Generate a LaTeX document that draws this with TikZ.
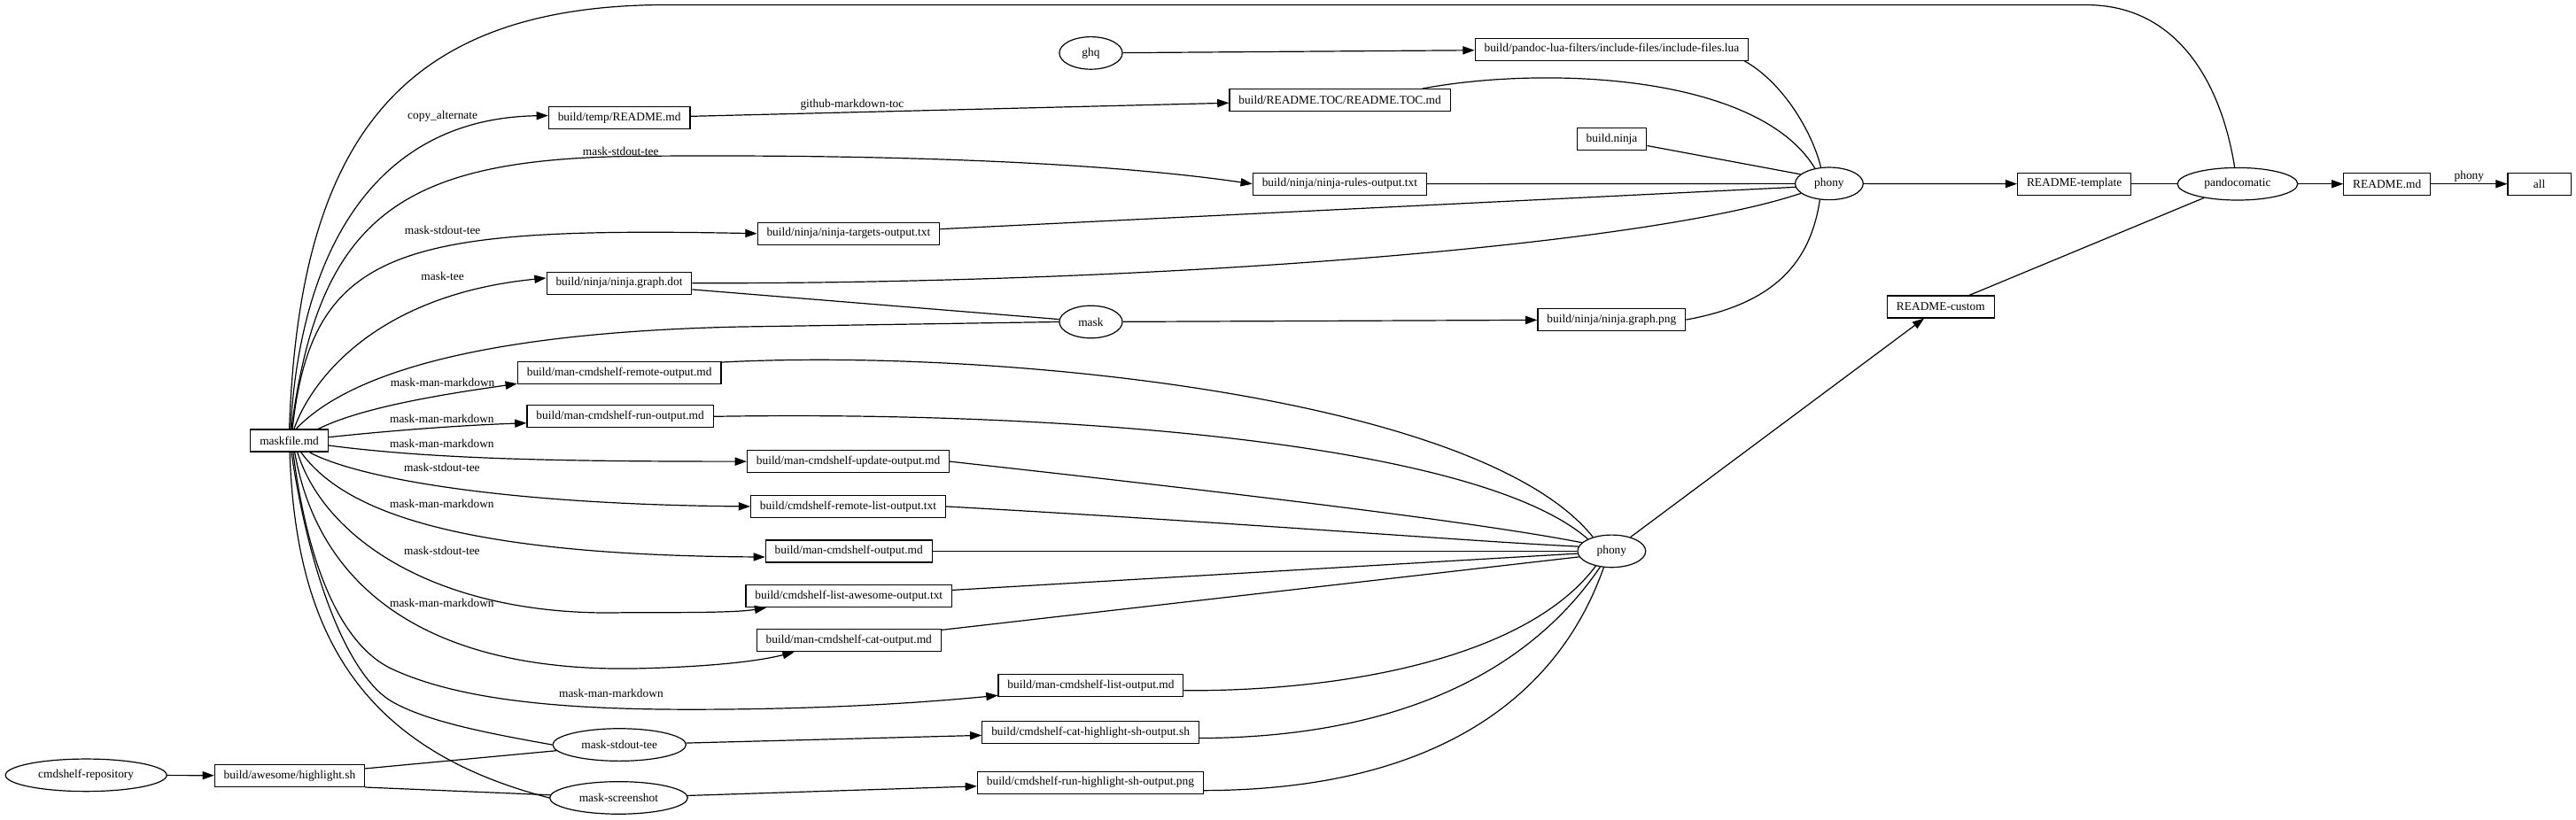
\documentclass[tikz,border=0pt]{standalone}
\usepackage{fontspec}
\setmainfont{Liberation Serif}
\usepackage{tikz}
\usetikzlibrary{arrows.meta,shapes.geometric}

\begin{document}
\begin{tikzpicture}[x=0.9273pt,y=-0.9273pt,>={Triangle[length=6.6pt,width=4.6pt]},line width=0.6pt,
artifact/.style={draw,rectangle,minimum width=35.6pt,minimum height=12.5pt,inner xsep=5.2pt,inner ysep=1pt,font=\fontsize{6.7}{8}\selectfont},
action/.style={draw,ellipse,minimum width=35.6pt,minimum height=18.3pt,inner xsep=5.2pt,inner ysep=0pt,font=\fontsize{6.7}{8}\selectfont},
rel/.style={font=\fontsize{6.7}{8}\selectfont,inner sep=1pt}]
\useasboundingbox (0,0) rectangle (1568,498.8);
% files (boxes) and rules (ellipses)
\node[artifact] (maskf) at (176.1,268.3) {maskfile.md};
\node[action] (repo) at (52.4,472) {cmdshelf-repository};
\node[artifact] (hlsh) at (176.3,472.3) {build/awesome/highlight.sh};
\node[action] (mstee) at (377,453.5) {mask-stdout-tee};
\node[action] (mshot) at (376.6,485.8) {mask-screenshot};
\node[action] (ghq) at (664,32.3) {ghq};
\node[artifact] (lua) at (981,30) {build/pandoc-lua-filters/include-files/include-files.lua};
\node[artifact] (tmprd) at (377,71.9) {build/temp/README.md};
\node[artifact] (toc) at (815.6,61) {build/README.TOC/README.TOC.md};
\node[artifact] (bninja) at (981.1,84.7) {build.ninja};
\node[artifact] (rules) at (815.5,112) {build/ninja/ninja-rules-output.txt};
\node[action] (phtop) at (1113.4,111.8) {phony};
\node[artifact] (targets) at (516.5,142.2) {build/ninja/ninja-targets-output.txt};
\node[artifact] (gdot) at (376.9,172.4) {build/ninja/ninja.graph.dot};
\node[action] (mask) at (664,196) {mask};
\node[artifact] (gpng) at (981,194.7) {build/ninja/ninja.graph.png};
\node[artifact] (remote) at (377,227.1) {build/man-cmdshelf-remote-output.md};
\node[artifact] (run) at (377.5,253.6) {build/man-cmdshelf-run-output.md};
\node[artifact] (update) at (516.3,281) {build/man-cmdshelf-update-output.md};
\node[artifact] (rlist) at (516.3,308.4) {build/cmdshelf-remote-list-output.txt};
\node[artifact] (manout) at (516.7,335.6) {build/man-cmdshelf-output.md};
\node[artifact] (awesome) at (516.7,363) {build/cmdshelf-list-awesome-output.txt};
\node[artifact] (catout) at (516.7,390) {build/man-cmdshelf-cat-output.md};
\node[artifact] (listout) at (664,417.5) {build/man-cmdshelf-list-output.md};
\node[artifact] (cathl) at (663.8,446) {build/cmdshelf-cat-highlight-sh-output.sh};
\node[artifact] (runhl) at (663.7,476.5) {build/cmdshelf-run-highlight-sh-output.png};
\node[action] (phbot) at (981,335.6) {phony};
\node[artifact] (custom) at (1181.3,186.8) {README-custom};
\node[artifact] (tmpl) at (1262.6,112) {README-template};
\node[action] (pandoc) at (1362,112) {pandocomatic};
\node[artifact] (readme) at (1453,112) {README.md};
\node[artifact] (all) at (1545.7,112) {all};
% rule labels on the maskfile edges
\node[rel] (lcopy) at (269.4,71) {copy\_alternate};
\node[rel] (lrules) at (377.8,92.2) {mask-stdout-tee};
\node[rel] (ltargets) at (269.4,140.2) {mask-stdout-tee};
\node[rel] (ldot) at (269.4,168) {mask-tee};
\node[rel] (lremote) at (269.4,232.8) {mask-man-markdown};
\node[rel] (lrun) at (269,254.9) {mask-man-markdown};
\node[rel] (lupdate) at (269,270.2) {mask-man-markdown};
\node[rel] (lrlist) at (269,284.9) {mask-stdout-tee};
\node[rel] (lmanout) at (269,306.5) {mask-man-markdown};
\node[rel] (lawesome) at (269,335.2) {mask-stdout-tee};
\node[rel] (lcatout) at (269,367.2) {mask-man-markdown};
\node[rel] (llistout) at (372,422.4) {mask-man-markdown};
% maskfile fan
\draw (maskf.90) .. controls (182,90) and (240,5) .. (400,3) -- (1270,3) .. controls (1325,3) and (1352,50) .. (pandoc.100);
\draw[->] (maskf.84) .. controls (183,150) and (230,72) .. (tmprd.178);
\draw[->] (maskf.80) .. controls (195,125) and (250,95) .. (400,95) .. controls (560,94) and (680,100) .. (rules.west);
\draw[->] (maskf.75) .. controls (190,150) and (245,138) .. (targets.west);
\draw[->] (maskf.68) .. controls (188,235) and (225,180) .. (gdot.176);
\draw (maskf.60) .. controls (205,235) and (270,203) .. (450,199) -- (mask.west);
\draw[->] (maskf.22) .. controls (220,248) and (270,240) .. (remote.186);
\draw[->] (maskf.5) .. controls (240,262) and (280,259) .. (run.184);
\draw[->] (maskf.-7) .. controls (260,279) and (330,281) .. (update.west);
\draw[->] (maskf.-30) .. controls (215,290) and (300,307) .. (rlist.west);
\draw[->] (maskf.-45) .. controls (205,305) and (260,338) .. (manout.184);
\draw[->] (maskf.-55) .. controls (198,330) and (270,376) .. (380,373) .. controls (420,373) and (448,373) .. (awesome.188);
\draw[->] (maskf.-65) .. controls (195,365) and (270,410) .. (390,407) .. controls (430,406) and (460,403) .. (catout.192);
\draw[->] (maskf.-72) .. controls (188,350) and (210,395) .. (240,408) .. controls (280,426) and (340,432) .. (420,432) .. controls (500,432) and (560,428) .. (listout.186);
\draw (maskf.-80) .. controls (190,360) and (215,415) .. (240,428) .. controls (262,440) and (300,447) .. (mstee.west);
\draw (maskf.-88) .. controls (180,380) and (215,455) .. (mshot.west);
% into the lower phony
\draw (remote.6) .. controls (600,212) and (900,240) .. (phbot.143);
\draw (run.east) .. controls (650,250) and (900,270) .. (phbot.153);
\draw (update.east) .. controls (750,300) and (900,318) .. (phbot.164);
\draw (rlist.east) .. controls (750,318) and (900,330) .. (phbot.172);
\draw (manout) -- (phbot);
\draw (awesome) -- (phbot.184);
\draw (catout) -- (phbot.190);
\draw (listout.-3) .. controls (820,421) and (930,400) .. (phbot.223);
\draw (cathl.-3) .. controls (850,449) and (930,410) .. (phbot.234);
\draw (runhl.-4) .. controls (880,481) and (950,420) .. (phbot.244);
% into the upper phony
\draw (lua.-5) .. controls (1085,50) and (1103,80) .. (phtop.117);
\draw (toc.8) .. controls (940,40) and (1070,45) .. (phtop.133);
\draw (bninja) -- (phtop.162);
\draw (rules) -- (phtop);
\draw (targets) -- (phtop.186);
\draw (gdot.east) .. controls (700,173) and (1000,150) .. (phtop.199);
\draw (gpng.east) .. controls (1080,185) and (1102,160) .. (phtop.240);
\draw (gdot.-5) -- (mask);
% the rest
\draw[->] (ghq) -- (lua);
\draw[->] (tmprd) -- node[rel,pos=0.3,above] (ltoc) {github-markdown-toc} (toc);
\draw[->] (mask) -- (gpng);
\draw[->] (repo) -- (hlsh);
\draw (hlsh) -- (mstee);
\draw (hlsh.south east) -- (mshot);
\draw[->] (mstee) -- (cathl);
\draw[->] (mshot) -- (runhl);
\draw[->] (phtop) -- (tmpl);
\draw (tmpl) -- (pandoc);
\draw (custom.22) -- (pandoc);
\draw[->] (pandoc) -- (readme);
\draw[->] (readme) -- node[rel,above] (lphony) {phony} (all);
\draw[->] (phbot) -- (custom.215);
\end{tikzpicture}
\end{document}
